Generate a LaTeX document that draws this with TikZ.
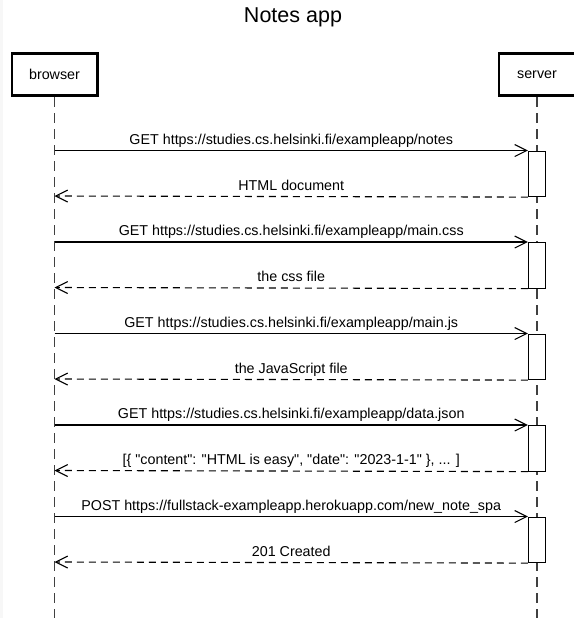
\documentclass[tikz,border=0pt]{standalone}
\usepackage{fontspec}
\setmainfont{Liberation Sans}
\usetikzlibrary{arrows.meta, positioning}

\begin{document}
\begin{tikzpicture}[x=1pt, y=-1pt,
    actor/.style={rectangle, draw, line width=2.6pt, minimum height=42.4pt, inner sep=0pt, font=\fontsize{14.3}{16}\selectfont},
    act/.style={rectangle, draw, fill=white, line width=1.1pt, minimum width=17pt, minimum height=45.5pt, anchor=north, inner sep=0pt},
    lifeline/.style={draw=black!75, line width=1.4pt, dash pattern=on 10pt off 6pt},
    msg/.style={-{Straight Barb[length=12pt, width=12pt, line width=1.1pt]}, line width=1.1pt},
    ret/.style={msg, dash pattern=on 7pt off 5pt},
    lbl/.style={font=\fontsize{14.3}{16}\selectfont, anchor=base, yshift=6.5pt, inner sep=0pt}
]
\useasboundingbox (0,0) rectangle (573,618);
\fill[black!3] (0,0) rectangle (3,618);

% Title and actors
\node[font=\fontsize{21.5}{24}\selectfont, anchor=base] (title) at (293,23) {Notes app};
\node[actor, minimum width=85.4pt] (browser) at (54.5,74.5) {browser};
\node[actor, minimum width=76pt] (server) at (537,74.5) {server};

% Lifelines
\coordinate (browser end) at (54.5,620);
\coordinate (server end) at (537,620);
\draw[lifeline] (browser) -- (browser end);
\draw[lifeline] (server) -- (server end);

% Activations on the server
\node[act] (act1) at (537,150.5) {};
\node[act] (act2) at (537,242) {};
\node[act] (act3) at (537,333.5) {};
\node[act] (act4) at (537,425) {};
\node[act] (act5) at (537,516.5) {};

% Points on the browser lifeline
\coordinate (req1) at (54.5,150.5);
\coordinate (res1) at (54.5,196);
\coordinate (req2) at (54.5,242);
\coordinate (res2) at (54.5,287.5);
\coordinate (req3) at (54.5,333.5);
\coordinate (res3) at (54.5,379);
\coordinate (req4) at (54.5,425);
\coordinate (res4) at (54.5,470.5);
\coordinate (req5) at (54.5,516.5);
\coordinate (res5) at (54.5,562);

% Requests
\path[msg]
    (req1) edge node[lbl] {GET https://studies.cs.helsinki.fi/exampleapp/notes} (act1.north west)
    (req2) edge node[lbl] {GET https://studies.cs.helsinki.fi/exampleapp/main.css} (act2.north west)
    (req3) edge node[lbl] {GET https://studies.cs.helsinki.fi/exampleapp/main.js} (act3.north west)
    (req4) edge node[lbl] {GET https://studies.cs.helsinki.fi/exampleapp/data.json} (act4.north west)
    (req5) edge node[lbl] {POST https://fullstack-exampleapp.herokuapp.com/new\_note\_spa} (act5.north west);

% Responses
\path[ret]
    (act1.south west) edge node[lbl] {HTML document} (res1)
    (act2.south west) edge node[lbl] {the css file} (res2)
    (act3.south west) edge node[lbl] {the JavaScript file} (res3)
    (act4.south west) edge node[lbl] {[\{ \textquotedbl content\textquotedbl: \textquotedbl HTML is easy\textquotedbl, \textquotedbl date\textquotedbl: \textquotedbl 2023-1-1\textquotedbl\ \}, ... ]} (res4)
    (act5.south west) edge node[lbl] {201 Created} (res5);

\end{tikzpicture}
\end{document}
